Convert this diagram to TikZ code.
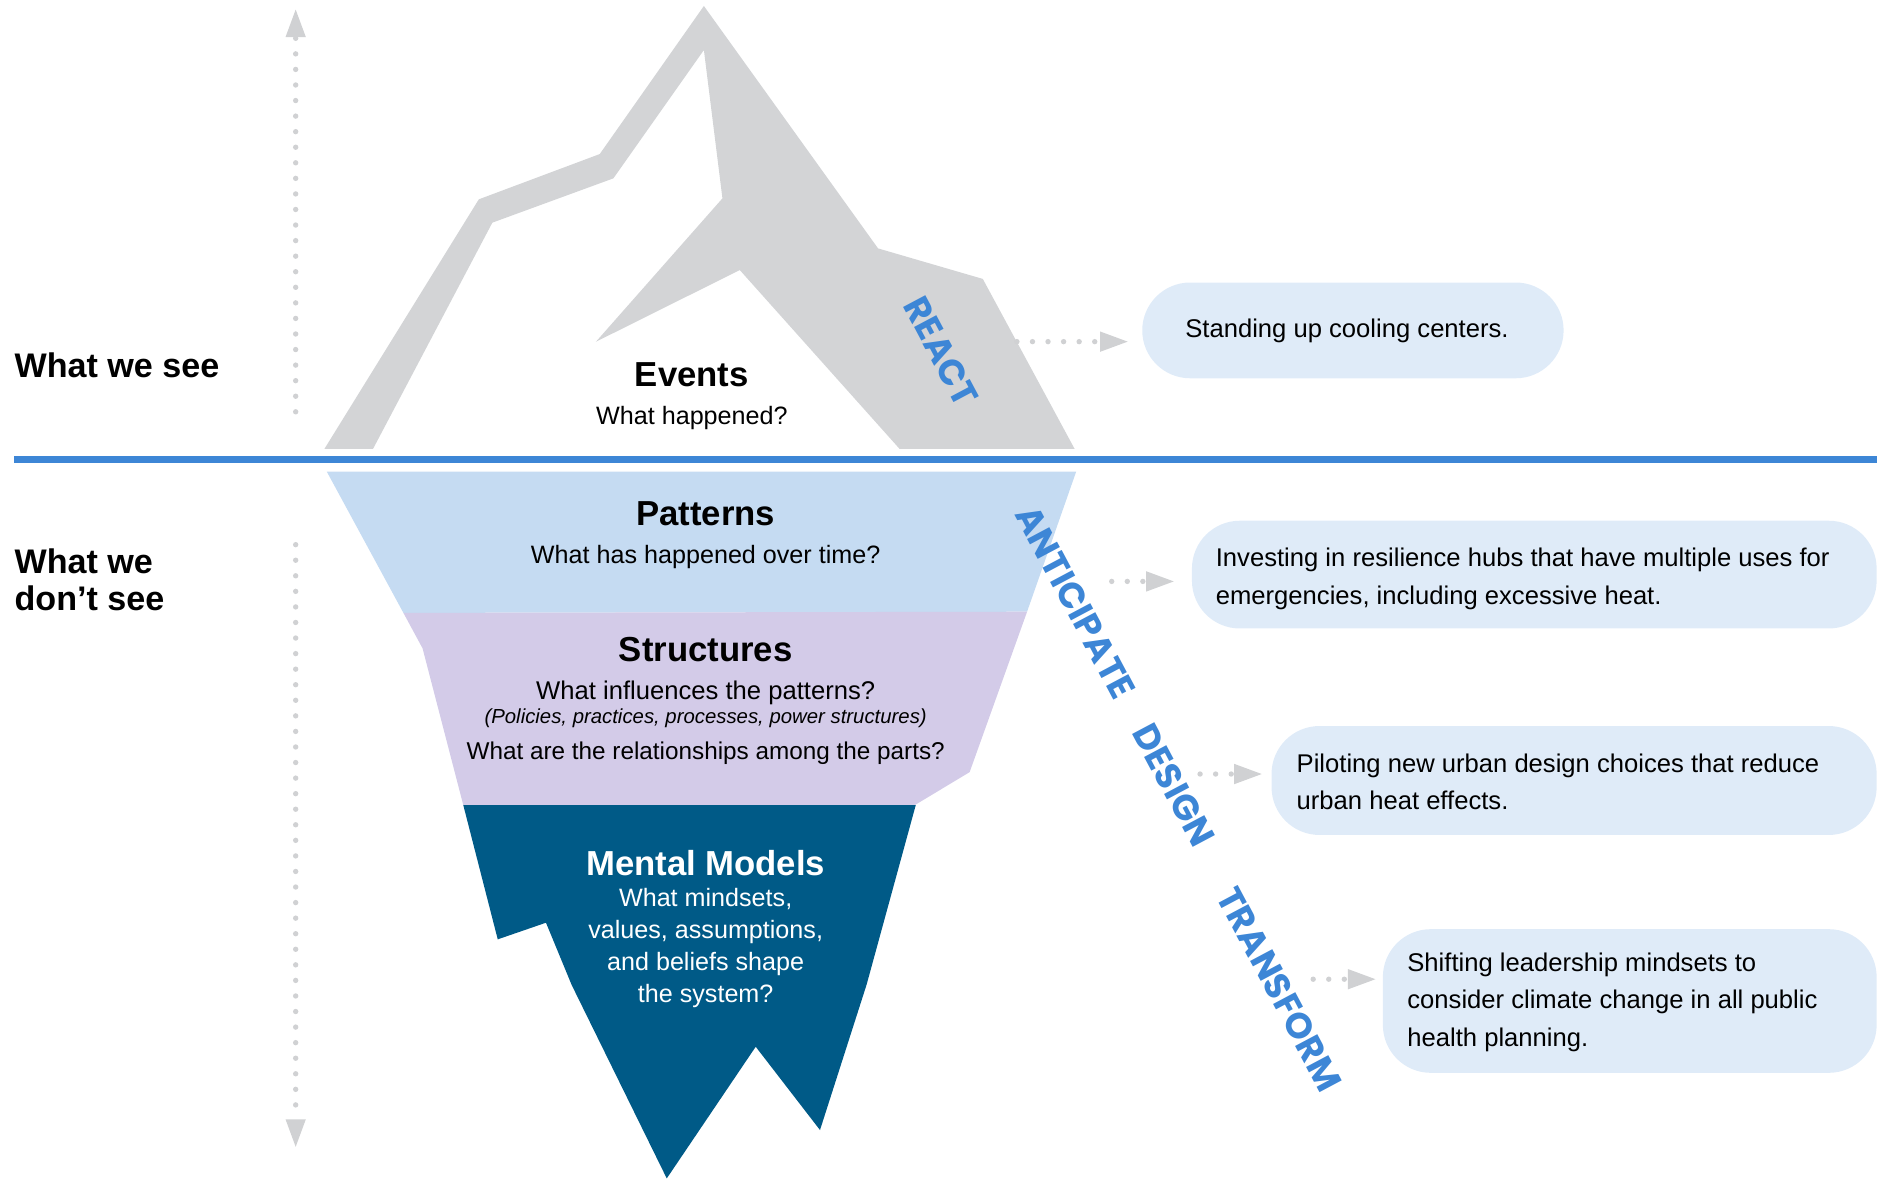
\documentclass[tikz,border=0pt]{standalone}
\usepackage{fontspec}
\setmainfont{Liberation Sans}
\newfontfamily\tagfont{Poppins}
\usetikzlibrary{arrows.meta}

\definecolor{berg}{RGB}{211,212,214}
\definecolor{dotgray}{RGB}{208,209,211}
\definecolor{seablue}{RGB}{61,134,214}
\definecolor{pattfill}{RGB}{197,219,242}
\definecolor{structfill}{RGB}{211,203,232}
\definecolor{mentalfill}{RGB}{0,90,135}
\definecolor{boxfill}{RGB}{223,235,248}

\tikzset{
  side/.style={font=\bfseries\fontsize{28.5}{31}\selectfont, anchor=base west, inner sep=0pt},
  head/.style={font=\bfseries\fontsize{29}{32}\selectfont, anchor=base, inner sep=0pt},
  body/.style={font=\fontsize{21}{26}\selectfont, anchor=base, inner sep=0pt},
  note/.style={font=\itshape\fontsize{17}{20}\selectfont, anchor=base, inner sep=0pt},
  tag/.style={font=\tagfont\bfseries\fontsize{30}{32}\selectfont, text=seablue, rotate=-62, inner sep=0pt},
  dotline/.style={draw=dotgray, line width=4.5pt, line cap=round,
    dash pattern=on 0pt off 13pt,
    -{Triangle[length=23pt,width=17pt,line width=0pt,fill=dotgray]}},
  ansbox/.style={fill=boxfill, rounded corners=40pt, anchor=west, inner sep=0pt},
  anstext/.style={anchor=west, inner sep=0pt, align=left,
    font=\fontsize{21.4}{31.3}\selectfont}
}

\begin{document}
\begin{tikzpicture}[x=1pt,y=-1pt]
\useasboundingbox (0,0) rectangle (1568,985);

% tip of the iceberg above the waterline
\fill[berg] (271,375) -- (400,166.5) -- (501,128.7) -- (588,5) -- (733.5,207.5)
  -- (821,233) -- (897.7,375) -- (751.5,375) -- (618,225.6) -- (497.8,285.5)
  -- (603.5,165.7) -- (588,41.8) -- (512.4,149) -- (411.3,186) -- (311.6,375) -- cycle;

% waterline
\draw[seablue, line width=6pt] (12,384) -- (1568,384);

% layers below the waterline
\fill[pattfill] (273,394) -- (899,394) -- (858,511) -- (337,512) -- cycle;
\fill[structfill] (337,512) -- (858,511) -- (810,645) -- (764.3,672.5)
  -- (387,672.5) -- (353,541.6) -- cycle;
\fill[mentalfill] (387,672.5) -- (765,672.5) -- (724,822.3) -- (685,944)
  -- (631.3,874.4) -- (557,984.4) -- (477.6,822.9) -- (456.1,770.8)
  -- (415.8,784.7) -- cycle;

% side labels
\node[side] (see) at (12,315.4) {What we see};
\node[side, align=left, anchor=north west] (dontsee) at (12,458.5) {What we\\don’t see};

% vertical dotted arrows
\coordinate (upstart) at (247,344);
\coordinate (uptip) at (247,8);
\coordinate (downstart) at (247,455);
\coordinate (downtip) at (247,958);
\draw[dotline] (upstart) -- (uptip);
\draw[dotline] (downstart) -- (downtip);

% level texts
\node[head] (events) at (578,323) {Events};
\node[body] (eventsq) at (578,354.2) {What happened?};

\node[head] (patterns) at (589.5,438.6) {Patterns};
\node[body] (patternsq) at (589.5,470.6) {What has happened over time?};

\node[head] (structures) at (589.5,552.8) {Structures};
\node[body, font=\fontsize{21.4}{26}\selectfont] (structq) at (589.5,584.2) {What influences the patterns?};
\node[note] (structnote) at (589.5,604.8) {(Policies, practices, processes, power structures)};
\node[body, font=\fontsize{20.3}{26}\selectfont] (structr) at (589.5,634.3) {What are the relationships among the parts?};

\node[head, text=white] (mental) at (589.5,731) {Mental Models};
\node[body, text=white] (mq1) at (589.5,757.4) {What mindsets,};
\node[body, text=white] (mq2) at (589.5,783.9) {values, assumptions,};
\node[body, text=white] (mq3) at (589.5,810.9) {and beliefs shape};
\node[body, text=white] (mq4) at (589.5,837.6) {the system?};

% response modes
\node[tag] (react) at (786,293.5) {REACT};
\node[tag] (anticipate) at (898.5,503) {ANTICIPATE};
\node[tag] (design) at (980.5,656) {DESIGN};
\node[tag] (transform) at (1069,826.5) {TRANSFORM};

% example actions: rounded boxes
\node[ansbox, minimum width=352pt, minimum height=80pt] (b1) at (954,276) {};
\node[ansbox, minimum width=572pt, minimum height=90pt] (b2) at (995.5,480) {};
\node[ansbox, minimum width=505.5pt, minimum height=91pt] (b3) at (1062,652) {};
\node[ansbox, minimum width=412.5pt, minimum height=120pt] (b4) at (1155,836.2) {};

% example actions: texts
\node[anstext, xshift=36pt, yshift=-0.5pt] (t1) at (b1.west) {Standing up cooling centers.};
\node[anstext, xshift=20pt, yshift=-3.5pt] (t2) at (b2.west)
  {Investing in resilience hubs that have multiple uses for\\emergencies, including excessive heat.};
\node[anstext, xshift=21pt, yshift=-1pt] (t3) at (b3.west)
  {Piloting new urban design choices that reduce\\urban heat effects.};
\node[anstext, xshift=20.5pt, yshift=-1pt] (t4) at (b4.west)
  {Shifting leadership mindsets to\\consider climate change in all public\\health planning.};

% connectors from modes to actions
\coordinate (reactout) at (849.5,285.4);
\coordinate (anticout) at (928.7,485.7);
\coordinate (designout) at (1002.5,646.6);
\coordinate (transout) at (1097,818);
\draw[dotline, shorten >=12pt] (reactout) -- (reactout -| b1.west);
\draw[dotline, shorten >=15pt] (anticout) -- (anticout -| b2.west);
\draw[dotline, shorten >=8pt] (designout) -- (designout -| b3.west);
\draw[dotline, shorten >=6pt] (transout) -- (transout -| b4.west);
\end{tikzpicture}
\end{document}
